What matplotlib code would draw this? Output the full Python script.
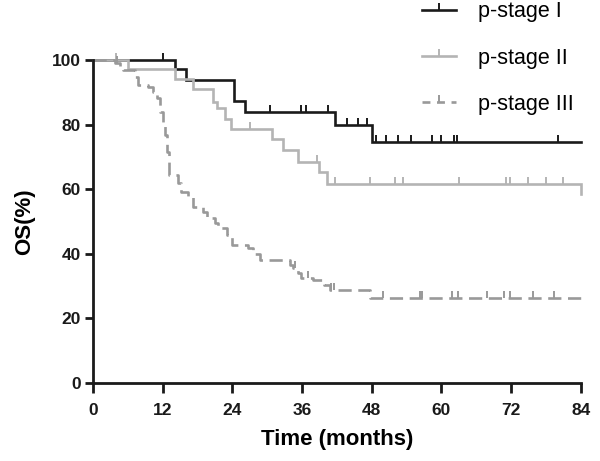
import numpy as np
import matplotlib.pyplot as plt
from matplotlib.lines import Line2D

# datos de supervivencia (meses, % OS)
times_I = [0, 14.1, 16.0, 24.2, 26.2, 41.7, 48.1, 84]
surv_I = [100, 97.1, 93.8, 87.3, 84.0, 79.8, 74.6, 74.6]
cens_I = [12.0, 30.4, 35.9, 36.7, 40.4, 43.7, 45.7, 47.2, 48.8, 50.5, 52.5,
          54.8, 58.3, 59.9, 62.1, 62.7, 80.0]

times_II = [0, 6.1, 14.1, 17.3, 20.7, 21.3, 22.7, 23.7, 30.9, 32.8, 35.3,
            38.9, 40.3, 84]
surv_II = [100, 97.1, 94.0, 90.9, 87.1, 85.0, 81.6, 78.5, 75.4, 72.1, 68.5,
           65.4, 61.7, 58.5]
cens_II = [4.0, 27.0, 38.6, 41.6, 47.7, 52.0, 53.3, 63.1, 71.2, 71.8, 74.9,
           78.0, 80.9]

times_III = [0, 3.8, 4.6, 5.2, 7.2, 7.8, 9.5, 10.4, 11.0, 11.5, 12.0, 12.4,
             12.8, 13.1, 14.7, 15.1, 16.4, 17.3, 19.0, 19.6, 21.0, 21.6, 23.0,
             23.9, 26.7, 27.6, 28.7, 33.9, 34.5, 35.3, 35.9, 37.9, 39.7, 40.8,
             47.7, 84]
surv_III = [100, 99.0, 97.9, 96.9, 94.8, 92.2, 91.7, 90.2, 88.1, 84.0, 79.9,
            76.8, 71.6, 64.4, 61.8, 59.2, 57.7, 54.6, 53.0, 51.0, 49.4, 47.9,
            45.8, 42.7, 41.7, 40.1, 38.1, 36.5, 35.5, 34.0, 32.4, 31.9, 30.3,
            28.8, 26.4, 26.4]
cens_III = [4.2, 34.8, 37.0, 41.0, 41.5, 50.0, 56.3, 56.6, 61.8, 62.9, 67.8,
            70.7, 71.8, 75.8, 79.3]

labels = ['p-stage I', 'p-stage II', 'p-stage III']
colors = ['#1a1a1a', '#b4b4b4', '#999999']

tick_up = [(0, 0), (0, 1)]


def escalones(t, s):
    x, y = [t[0]], [s[0]]
    for i in range(1, len(t)):
        x += [t[i], t[i]]
        y += [s[i - 1], s[i]]
    return x, y


def valor_en(t, s, c):
    idx = np.searchsorted(t, c, side='right') - 1
    return np.array(s)[idx]


plt.rcParams['font.family'] = ['Liberation Sans', 'DejaVu Sans']

fig = plt.figure(figsize=(6, 4.61), dpi=100)
ax = fig.add_axes([0.155, 0.169, 0.813, 0.701])

series = [(times_I, surv_I, cens_I, '-'),
          (times_II, surv_II, cens_II, '-'),
          (times_III, surv_III, cens_III, '--')]

handles = []
for (t, s, c, ls), col, lab in zip(series, colors, labels):
    x, y = escalones(t, s)
    ln, = ax.plot(x, y, color=col, lw=1.9, ls=ls, clip_on=False,
                  solid_joinstyle='miter')
    if ls == '--':
        ln.set_dashes((5, 2.5))
    ax.plot(c, valor_en(t, s, c), ls='none', marker=tick_up, ms=10,
            mew=1.4, color=col, clip_on=False)
    h = Line2D([0], [0], color=col, lw=1.9, ls=ls, marker=tick_up, ms=10,
               mew=1.4)
    if ls == '--':
        h.set_dashes((3, 2.5))
    handles.append(h)

ax.set_xlim(0, 84)
ax.set_ylim(0, 100)
ax.set_xticks(range(0, 85, 12))
ax.set_yticks(range(0, 101, 20))
for sp in ['top', 'right']:
    ax.spines[sp].set_visible(False)
for sp in ['left', 'bottom']:
    ax.spines[sp].set_linewidth(2)
    ax.spines[sp].set_color('#1a1a1a')
ax.tick_params(axis='both', width=2, color='#1a1a1a', direction='out')
ax.tick_params(axis='y', length=6, pad=3)
ax.tick_params(axis='x', length=7, pad=7)
for lbl in ax.get_xticklabels() + ax.get_yticklabels():
    lbl.set_fontweight('bold')
    lbl.set_fontsize(12.5)
    lbl.set_color('#1a1a1a')

ax.set_xlabel('Time (months)', fontsize=16, fontweight='bold', labelpad=8)
ax.set_ylabel('OS(%)', fontsize=16, fontweight='bold', labelpad=12)

fig.legend(handles, labels, loc='center left', bbox_to_anchor=(0.703, 0.874),
           frameon=False, fontsize=15.5, handlelength=1.6, handletextpad=1.0,
           labelspacing=1.18, borderpad=0, borderaxespad=0)

fig.savefig('out.png', dpi=100)
